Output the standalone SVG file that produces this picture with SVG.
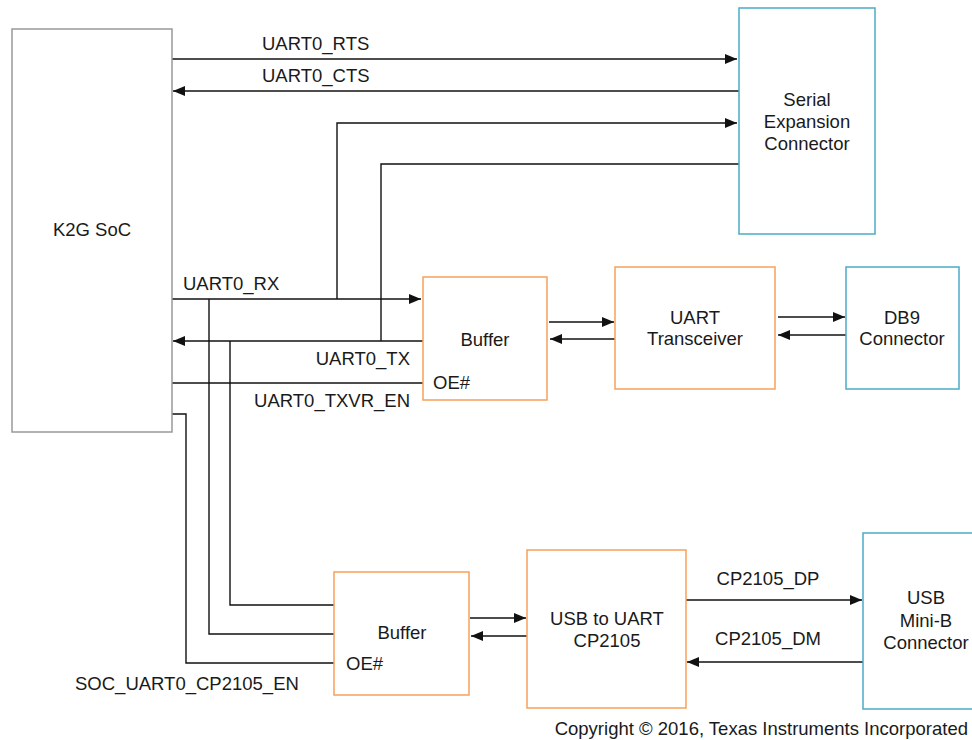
<svg xmlns="http://www.w3.org/2000/svg" width="972" height="740" viewBox="0 0 972 740">
<style>
text{font-family:"Liberation Sans",Arial,sans-serif;font-size:18.5px;fill:#1a1a1a}
.c{text-anchor:middle}
.r{text-anchor:end}
.soc{fill:#fff;stroke:#999;stroke-width:1.5}
.or{fill:#fff;stroke:#f7a15a;stroke-width:1.5}
.bl{fill:#fff;stroke:#4bacc6;stroke-width:1.5}
.w{fill:none;stroke:#111;stroke-width:1.4}
.a{fill:none;stroke:#111;stroke-width:1.4;marker-end:url(#ah)}
</style>
<defs>
<marker id="ah" markerUnits="userSpaceOnUse" markerWidth="12" markerHeight="10" refX="12" refY="5" orient="auto">
<path d="M0,0 L12,5 L0,10 Z" fill="#111"/>
</marker>
</defs>
<rect width="972" height="740" fill="#fff"/>
<g id="connectors">
<path class="a" d="M172,59 H737"/>
<path class="a" d="M739,91 H173"/>
<path class="a" d="M337,299 V123 H737"/>
<path class="w" d="M739,164 H381 V341"/>
<path class="a" d="M172,299 H421"/>
<path class="a" d="M423,341 H173"/>
<path class="w" d="M172,383 H423"/>
<path class="w" d="M209,299 V634 H334"/>
<path class="w" d="M230,341 V605 H334"/>
<path class="w" d="M172,414 H186 V663 H334"/>
<path class="a" d="M549,322 H614"/>
<path class="a" d="M615,339 H550"/>
<path class="a" d="M778,317 H845"/>
<path class="a" d="M846,335 H778"/>
<path class="a" d="M470,618 H526"/>
<path class="a" d="M527,636 H471"/>
<path class="a" d="M686,600 H862"/>
<path class="a" d="M863,662 H687"/>
</g>
<g id="labels">
<text x="262" y="50">UART0_RTS</text>
<text x="262" y="82">UART0_CTS</text>
<text x="183" y="290">UART0_RX</text>
<text class="r" x="410" y="365">UART0_TX</text>
<text class="r" x="410" y="407">UART0_TXVR_EN</text>
<text x="75" y="690">SOC_UART0_CP2105_EN</text>
<text class="c" x="768" y="585">CP2105_DP</text>
<text class="c" x="768" y="645">CP2105_DM</text>
</g>
<g id="k2g">
<rect class="soc" x="12" y="29" width="160" height="403"/>
<text class="c" x="92" y="236">K2G SoC</text>
</g>
<g id="serial">
<rect class="bl" x="739" y="8" width="136" height="226"/>
<text class="c" x="807" y="106">Serial</text>
<text class="c" x="807" y="128">Expansion</text>
<text class="c" x="807" y="150">Connector</text>
</g>
<g id="buffer1">
<rect class="or" x="423" y="277" width="124" height="123"/>
<text class="c" x="485" y="346">Buffer</text>
<text x="433" y="389">OE#</text>
</g>
<g id="transceiver">
<rect class="or" x="615" y="267" width="160" height="122"/>
<text class="c" x="695" y="324">UART</text>
<text class="c" x="695" y="345">Transceiver</text>
</g>
<g id="db9">
<rect class="bl" x="846" y="267" width="113" height="122"/>
<text class="c" x="902" y="324">DB9</text>
<text class="c" x="902" y="345">Connector</text>
</g>
<g id="buffer2">
<rect class="or" x="334" y="572" width="135" height="123"/>
<text class="c" x="402" y="639">Buffer</text>
<text x="346" y="670">OE#</text>
</g>
<g id="usb2uart">
<rect class="or" x="527" y="550" width="159" height="158"/>
<text class="c" x="607" y="625">USB to UART</text>
<text class="c" x="607" y="647">CP2105</text>
</g>
<g id="minib">
<rect class="bl" x="863" y="533" width="130" height="176"/>
<text class="c" x="926" y="604">USB</text>
<text class="c" x="926" y="627">Mini-B</text>
<text class="c" x="926" y="649">Connector</text>
</g>
<text class="r" x="968" y="735">Copyright © 2016, Texas Instruments Incorporated</text>
</svg>
